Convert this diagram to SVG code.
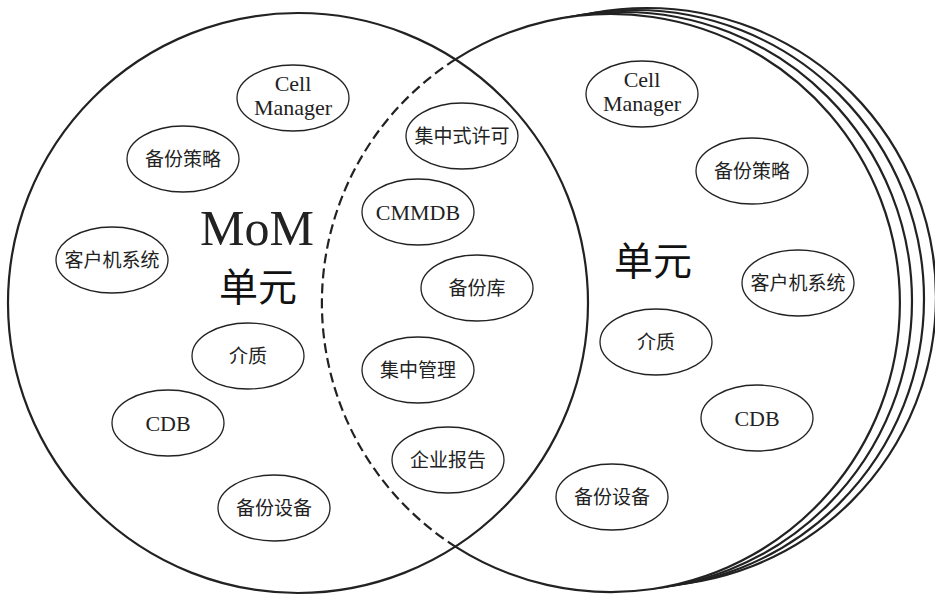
<svg xmlns="http://www.w3.org/2000/svg" width="935" height="595" viewBox="0 0 935 595">
<style>
.bk{fill:#fff;stroke:#222;stroke-width:2.2}
.ln{fill:none;stroke:#222;stroke-width:2.2}
.ds{fill:none;stroke:#222;stroke-width:2.2;stroke-dasharray:10 5}
.e{fill:#fff;stroke:#222;stroke-width:1.3}
.t{font-family:"Liberation Serif","Noto Sans CJK SC",serif;font-size:19px;text-anchor:middle;fill:#222}
.en{font-size:22px}
.big{font-family:"Noto Sans CJK SC",sans-serif;font-size:39px;text-anchor:middle;fill:#111}
.mom{font-family:"Liberation Serif",serif;font-size:50px;text-anchor:middle;fill:#222}
</style>
<rect width="935" height="595" fill="#fff"/>
<g id="cells">
  <circle class="bk" cx="647" cy="297" r="289"/>
  <circle class="bk" cx="635" cy="299" r="289"/>
  <circle class="bk" cx="623" cy="301" r="289"/>
  <circle cx="611" cy="303" r="289" fill="#fff"/>
  <circle class="ln" cx="298" cy="303" r="290"/>
  <path class="ln" d="M455.4,59.4 A289,289 0 1 1 455.4,546.6"/>
  <path class="ds" d="M455.4,59.4 A289,289 0 0 0 455.4,546.6"/>
</g>
<g id="title-mom">
  <text class="mom" x="257" y="245">MoM</text>
  <text class="big" x="258" y="301">单元</text>
</g>
<g id="title-cell">
  <text class="big" x="653" y="275">单元</text>
</g>
<g id="l-cellmanager"><ellipse class="e" cx="293" cy="98" rx="56" ry="33"/><text class="t en" x="293" y="91">Cell</text><text class="t en" x="293" y="115">Manager</text></g>
<g id="l-policy"><ellipse class="e" cx="183" cy="159" rx="56" ry="33"/><text class="t" x="183" y="166">备份策略</text></g>
<g id="l-client"><ellipse class="e" cx="112" cy="260" rx="56" ry="33"/><text class="t" x="112" y="267">客户机系统</text></g>
<g id="l-media"><ellipse class="e" cx="248" cy="356" rx="56" ry="33"/><text class="t" x="248" y="363">介质</text></g>
<g id="l-cdb"><ellipse class="e" cx="168" cy="423" rx="56" ry="33"/><text class="t en" x="168" y="431">CDB</text></g>
<g id="l-device"><ellipse class="e" cx="274" cy="508" rx="56" ry="33"/><text class="t" x="274" y="515">备份设备</text></g>
<g id="m-license"><ellipse class="e" cx="462" cy="136" rx="56" ry="33"/><text class="t" x="462" y="143">集中式许可</text></g>
<g id="m-cmmdb"><ellipse class="e" cx="418" cy="212" rx="56" ry="33"/><text class="t en" x="418" y="220">CMMDB</text></g>
<g id="m-library"><ellipse class="e" cx="477" cy="288" rx="56" ry="33"/><text class="t" x="477" y="295">备份库</text></g>
<g id="m-central"><ellipse class="e" cx="418" cy="370" rx="56" ry="33"/><text class="t" x="418" y="377">集中管理</text></g>
<g id="m-report"><ellipse class="e" cx="448" cy="460" rx="56" ry="33"/><text class="t" x="448" y="467">企业报告</text></g>
<g id="r-cellmanager"><ellipse class="e" cx="642" cy="94" rx="56" ry="33"/><text class="t en" x="642" y="87">Cell</text><text class="t en" x="642" y="111">Manager</text></g>
<g id="r-policy"><ellipse class="e" cx="752" cy="171" rx="56" ry="33"/><text class="t" x="752" y="178">备份策略</text></g>
<g id="r-client"><ellipse class="e" cx="798" cy="283" rx="56" ry="33"/><text class="t" x="798" y="290">客户机系统</text></g>
<g id="r-media"><ellipse class="e" cx="656" cy="342" rx="56" ry="33"/><text class="t" x="656" y="349">介质</text></g>
<g id="r-cdb"><ellipse class="e" cx="757" cy="418" rx="56" ry="33"/><text class="t en" x="757" y="426">CDB</text></g>
<g id="r-device"><ellipse class="e" cx="612" cy="497" rx="56" ry="33"/><text class="t" x="612" y="504">备份设备</text></g>
</svg>
